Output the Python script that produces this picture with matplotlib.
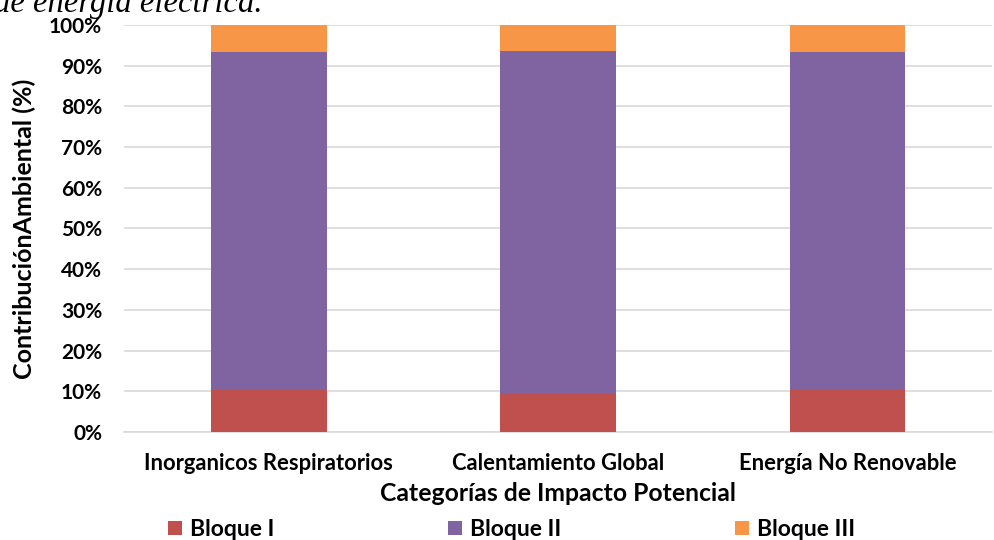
import numpy as np
import matplotlib.pyplot as plt
from matplotlib.ticker import PercentFormatter

categorias = ["Inorganicos Respiratorios", "Calentamiento Global", "Energía No Renovable"]
bloque_i = [10.2, 9.5, 10.2]
bloque_ii = [83.2, 84.0, 83.2]
bloque_iii = [6.6, 6.5, 6.6]
series = ["Bloque I", "Bloque II", "Bloque III"]
colores = ["#C0504D", "#8064A2", "#F79646"]

plt.rcParams['font.family'] = ['Lato', 'DejaVu Sans']
plt.rcParams['font.weight'] = 'bold'

fig = plt.figure(figsize=(9.94, 5.4), dpi=100)
ax = fig.add_axes([0.125, 0.2, 0.873, 0.754])

x = np.arange(len(categorias))
base = np.zeros(len(categorias))
for vals, nombre, c in zip([bloque_i, bloque_ii, bloque_iii], series, colores):
    ax.bar(x, vals, 0.4, bottom=base, color=c, label=nombre, zorder=3)
    base += np.array(vals)

ax.set_xlim(-0.5, len(categorias) - 0.5)
ax.set_ylim(0, 100)
ax.set_yticks(np.arange(0, 101, 10))
ax.yaxis.set_major_formatter(PercentFormatter(decimals=0))
ax.grid(axis='y', color='#D9D9D9', linewidth=1.2, zorder=0)
for s in ['top', 'right', 'left']:
    ax.spines[s].set_visible(False)
ax.spines['bottom'].set_color('#D9D9D9')
ax.spines['bottom'].set_linewidth(1.2)
ax.tick_params(axis='y', length=0, labelsize=15, pad=16)
ax.tick_params(axis='x', length=0, labelsize=15.8, pad=15)
ax.set_xticks(x)
ax.set_xticklabels(categorias, fontweight='bold')
for t in ax.get_yticklabels():
    t.set_fontweight('bold')

ax.set_xlabel("Categorías de Impacto Potencial", fontsize=17.8, fontweight='bold', labelpad=6)
ax.set_ylabel("ContribuciónAmbiental (%)", fontsize=18, fontweight='bold', labelpad=9)

fig.legend(loc='center left', bbox_to_anchor=(0.169, 0.019), ncol=3, frameon=False,
           fontsize=16.5, handlelength=0.6, handleheight=0.6, columnspacing=7.6,
           handletextpad=0.35, borderaxespad=0, borderpad=0)

# texto del documento cortado arriba
fig.text(-0.006, 0.978, "de energía eléctrica.", family='Liberation Serif', style='italic',
         fontweight='normal', fontsize=23.5, va='baseline')

fig.savefig("out.png", dpi=100)
